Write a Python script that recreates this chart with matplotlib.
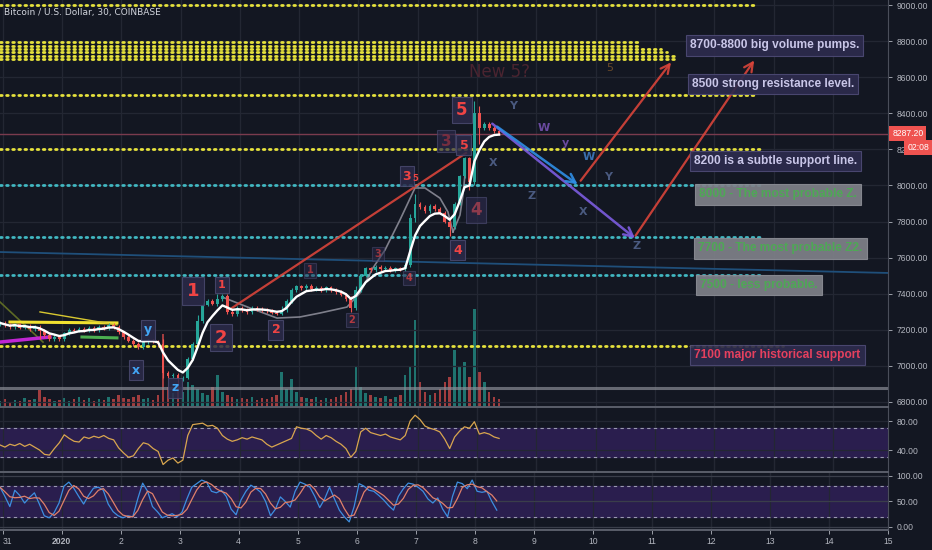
import matplotlib
matplotlib.use("Agg")
import matplotlib.pyplot as plt
from matplotlib import font_manager
import numpy as np
import pandas as pd

# ---- data (2h buckets starting Dec 31 ~00:00) ----
closes = [7238, 7225, 7215, 7230, 7212, 7220, 7205, 7215, 7195, 7170,
          7150, 7160, 7150, 7180, 7200, 7195, 7205, 7195, 7210, 7200,
          7215, 7210, 7225, 7215, 7185, 7160, 7140, 7120, 7105, 7130,
          7140, 7135, 7120, 6960, 6945, 6950, 6925, 6935, 7040, 7120,
          7250, 7340, 7360, 7345, 7370, 7390, 7300, 7285, 7320, 7310,
          7300, 7320, 7315, 7310, 7305, 7295, 7290, 7310, 7360, 7420,
          7440, 7430, 7445, 7425, 7430, 7420, 7435, 7420, 7410, 7395,
          7370, 7320, 7420, 7500, 7540, 7530, 7550, 7535, 7545, 7530,
          7540, 7535, 7560, 7820, 7900, 7880, 7860, 7885, 7870, 7850,
          7800, 7770, 7900, 8050, 8150, 8020, 8400, 8320, 8340, 8320,
          8300, 8287]
first_open = 7230
wick_idx = [8, 33, 36, 40, 44, 57, 71, 72, 83, 84, 91, 95, 96, 97]
wick_hi = [7225, 7150, 6950, 7280, 7400, 7330, 7390, 7440, 7840, 7950, 7810, 8160, 8470, 8440]
wick_lo = [7150, 6930, 6866, 7120, 7330, 7280, 7300, 7310, 7550, 7800, 7720, 7975, 8000, 8230]

volume = [6, 8, 5, 7, 6, 9, 7, 8, 17, 10, 8, 6, 7, 9, 6, 8, 10, 7, 9, 6,
          8, 7, 10, 8, 12, 9, 8, 10, 12, 8, 9, 7, 12, 73, 20, 14, 18, 15, 25, 22,
          18, 14, 12, 20, 32, 15, 12, 10, 8, 9, 8, 10, 7, 9, 8, 10, 12, 35, 18, 28,
          15, 10, 9, 8, 10, 7, 9, 8, 10, 12, 15, 18, 40, 20, 14, 12, 10, 9, 11, 8,
          10, 12, 32, 40, 87, 25, 15, 12, 14, 18, 25, 30, 57, 40, 45, 30, 98, 35, 25, 15,
          10, 8]

rsi = [47, 44, 48, 46, 49, 45, 48, 44, 40, 34, 33, 42, 50, 61, 56, 52, 51, 58, 56, 59,
       57, 60, 56, 54, 43, 36, 30, 32, 42, 50, 48, 42, 38, 20, 26, 29, 22, 26, 60, 75,
       76, 77, 73, 74, 70, 60, 55, 52, 54, 57, 55, 58, 56, 54, 48, 44, 47, 50, 53, 56,
       72, 70, 69, 66, 60, 55, 60, 57, 52, 48, 42, 30, 38, 65, 70, 64, 62, 60, 62, 58,
       56, 54, 60, 80, 88, 82, 73, 70, 68, 65, 55, 42, 58, 66, 72, 70, 79, 62, 64, 62,
       58, 56]

stoch_k = [78, 60, 40, 72, 62, 47, 58, 67, 45, 22, 18, 28, 47, 80, 88, 76, 60, 45, 62, 76,
           78, 72, 45, 30, 22, 18, 22, 20, 55, 86, 70, 40, 30, 18, 22, 26, 20, 29, 55, 78,
           85, 92, 88, 70, 67, 72, 60, 35, 24, 53, 70, 82, 76, 68, 50, 22, 35, 59, 50, 39,
           70, 88, 84, 78, 60, 38, 55, 78, 55, 33, 20, 10, 40, 85, 80, 72, 70, 62, 53, 42,
           33, 60, 75, 86, 84, 78, 70, 55, 47, 57, 35, 20, 60, 88, 85, 75, 92, 70, 68, 70,
           50, 33]

price_ticks = [6800, 7000, 7200, 7400, 7600, 7800, 8000, 8200, 8400, 8600, 8800, 9000]
day_labels = ["31", "2020", "2", "3", "4", "5", "6", "7", "8", "9", "10", "11", "12", "13", "14", "15"]
last_price = 8287.20

# ---- colours ----
BG = "#131722"
GRID = "#232733"
TXT = "#b2b5be"
UP = "#26a69a"
DN = "#ef5350"
YEL = "#e6e23c"
CYA = "#41b8c2"

# narrow font for notes if we have one
def have(name):
    try:
        font_manager.findfont(name, fallback_to_default=False)
        return True
    except Exception:
        return False

if have("Liberation Sans Narrow"):
    note_fam, note_fs, tick_fam, tick_fs = "Liberation Sans Narrow", 10, "Liberation Sans Narrow", 7
else:
    note_fam, note_fs, tick_fam, tick_fs = "Liberation Sans", 8.6, "Liberation Sans", 6.2

t = -1.045 + np.arange(len(closes)) / 12.0
closes = np.array(closes, dtype=float)
opens = np.concatenate([[first_open], closes[:-1]])
highs = np.maximum(opens, closes) + 10
lows = np.minimum(opens, closes) - 10
for i, h, l in zip(wick_idx, wick_hi, wick_lo):
    highs[i] = max(highs[i], h)
    lows[i] = min(lows[i], l)
up = closes >= opens
cols = np.where(up, UP, DN)

W, H = 932, 550
fig = plt.figure(figsize=(W / 100, H / 100), dpi=100, facecolor=BG)

def rect(x0, y0, x1, y1):
    return [x0 / W, 1 - y1 / H, (x1 - x0) / W, (y1 - y0) / H]

xlim = (-1.045, 13.93)
ax_vol = fig.add_axes(rect(0, 0, 888, 407))
ax = fig.add_axes(rect(0, 0, 888, 407))
ax_rsi = fig.add_axes(rect(0, 407, 888, 472))
ax_st = fig.add_axes(rect(0, 472, 888, 530))

for a in (ax_vol, ax, ax_rsi, ax_st):
    a.set_xlim(*xlim)
    a.set_facecolor(BG)
    for s in a.spines.values():
        s.set_visible(False)
ax.patch.set_visible(False)
ax_vol.set_xticks([])
ax_vol.set_yticks([])

# volume
ax_vol.set_ylim(0, 407)
ax_vol.bar(t, volume, width=0.5 / 12, color=cols, alpha=0.65, align="center")

# grid
day_pos = np.arange(-1, 15)
for a in (ax, ax_rsi, ax_st):
    for d in day_pos:
        a.axvline(d, color=GRID, lw=0.9, zorder=0)
ax.set_ylim(6772, 9028)
for p in price_ticks:
    ax.axhline(p, color=GRID, lw=0.9, zorder=0)

# level lines (dotted)
dot = dict(lw=2.0, linestyle=(0, (0.6, 1.6)), dash_capstyle="round", zorder=2)
ax.plot([xlim[0], 11.70], [9000, 9000], color=YEL, **dot)
band = [8793, 8774, 8756, 8737, 8719, 8700]
band_end = [9.73, 9.73, 10.1, 10.2, 10.35, 10.35]
for p, e in zip(band, band_end):
    ax.plot([xlim[0], e], [p, p], color=YEL, **dot)
ax.plot([xlim[0], 11.70], [8500, 8500], color=YEL, **dot)
ax.plot([xlim[0], 11.82], [8200, 8200], color=YEL, **dot)
ax.plot([xlim[0], 11.82], [8000, 8000], color=CYA, **dot)
ax.plot([xlim[0], 11.82], [7715, 7715], color=CYA, **dot)
ax.plot([xlim[0], 11.82], [7505, 7505], color=CYA, **dot)
ax.plot([xlim[0], 12.16], [7110, 7110], color=YEL, **dot)

# solid helper lines
ax.axhline(last_price, color="#7a3b4e", lw=1.0, zorder=1)
ax.axhline(6878, color="#8a8d96", lw=2.2, alpha=0.7, zorder=1)
ax.plot([xlim[0], xlim[1]], [7631, 7515], color="#1f4f7a", lw=1.3, zorder=1)

# left side drawings
ax.plot([-1.045, -0.32], [7354, 7132], color="#5d6a25", lw=1.2, zorder=3)
ax.plot([-0.877, 0.927], [7243, 7238], color="#f0e030", lw=2.2, zorder=3)
ax.plot([-0.371, 0.927], [7299, 7227], color="#d8c830", lw=1.0, zorder=3)
ax.plot([-1.045, -0.202], [7132, 7160], color="#c026d3", lw=2.5, zorder=3)
ax.plot([0.337, 0.927], [7160, 7155], color="#4caf50", lw=2.2, zorder=3)

# grey hand-drawn arcs
arc_d = [2.698, 3.170, 3.626, 4.013, 4.351, 4.806, 5.025, 5.245, 5.447, 5.700, 5.953, 6.121, 6.374, 6.509, 6.594]
arc_p = [7382, 7321, 7265, 7271, 7293, 7326, 7404, 7543, 7642, 7809, 7986, 7986, 7930, 7853, 7742]
ax.plot(arc_d, arc_p, color="#9a9aa6", lw=1.2, alpha=0.8, zorder=3)
ax.plot([6.594, 6.712, 6.762, 6.796], [7742, 7836, 7947, 8058], color="#9a9aa6", lw=1.2, alpha=0.8, zorder=3)

# candles
ax.vlines(t, lows, highs, color=cols, lw=0.8, zorder=4)
ax.bar(t, closes - opens, bottom=opens, width=0.55 / 12, color=cols, zorder=5)
ema = pd.Series(closes).ewm(span=5).mean()
ax.plot(t, ema, color="white", lw=1.7, zorder=6)

# trend line and arrows
ax.plot([2.867, 6.813], [7321, 8180], color="#d9443a", lw=1.6, alpha=0.9, zorder=3)
def arrow(a, b, c, lw=1.6):
    ax.annotate("", xy=b, xytext=a, zorder=6,
                arrowprops=dict(arrowstyle="->", color=c, lw=lw, mutation_scale=16, alpha=0.9))
arrow((8.718, 8014), (10.30, 8695), "#d9443a")
arrow((9.646, 7709), (11.70, 8706), "#d9443a")
arrow((7.22, 8352), (9.70, 7698), "#7c5ce0", 1.8)
arrow((7.30, 8335), (8.735, 7997), "#2f8fe6", 1.8)

# faded ghost markings
ax.text(7.386, 8629, "New 5?", color="#4a2430", fontsize=12, ha="center", va="center", zorder=2)
ax.text(9.241, 8651, "5", color="#6a4a2a", fontsize=8, ha="center", va="center", zorder=2)

# wave labels
def wave(d, p, s, fs, c="#ef4444", box=True, alpha=1.0):
    bb = dict(boxstyle="square,pad=0.25", fc="#2b2a4a", ec="#4a4a70", lw=0.8, alpha=0.85 * alpha) if box else None
    ax.text(d, p, s, color=c, fontsize=fs, fontweight="bold", ha="center", va="center",
            bbox=bb, zorder=7, alpha=alpha)
wave(2.209, 7415, "1", 13)
wave(2.681, 7155, "2", 13)
wave(2.698, 7448, "1", 8)
wave(3.609, 7199, "2", 9)
wave(4.182, 7531, "1", 7, alpha=0.6)
wave(4.890, 7254, "2", 7, alpha=0.7)
wave(5.329, 7620, "3", 7, alpha=0.6)
wave(5.852, 7487, "4", 7, alpha=0.7)
wave(5.818, 8052, "3", 9)
wave(5.953, 8041, "5", 6, box=False)
wave(6.476, 8246, "3", 11, c="#8a3040", alpha=0.8)
wave(6.779, 8224, "5", 9)
wave(6.745, 8418, "5", 12)
wave(6.981, 7864, "4", 12, c="#a84050", alpha=0.8)
wave(6.678, 7642, "4", 9)
wave(1.450, 7199, "y", 9, c="#42a5f5")
wave(1.248, 6977, "x", 9, c="#42a5f5")
wave(1.906, 6878, "z", 9, c="#42a5f5")
for d, p, s, c in [(7.268, 8124, "X", "#4a5a80"), (7.926, 7942, "Z", "#4a5a80"),
                   (7.605, 8440, "Y", "#4a5a80"), (8.128, 8318, "W", "#6a4aa0"),
                   (8.499, 8235, "y", "#6a4aa0"), (8.887, 8158, "W", "#3a70b0"),
                   (9.207, 8047, "Y", "#4a5a80"), (8.786, 7853, "X", "#4a5a80"),
                   (9.696, 7664, "Z", "#4a5a80")]:
    ax.text(d, p, s, color=c, fontsize=8, fontweight="bold", ha="center", va="center", zorder=7)

# note boxes
def note(d, p, s, tc, fc, ec):
    ax.text(d, p, s, color=tc, fontsize=note_fs, fontweight="bold", family=note_fam,
            ha="left", va="center", zorder=8,
            bbox=dict(boxstyle="square,pad=0.35", fc=fc, ec=ec, lw=0.8, alpha=0.92))
PUR, PURE = "#2d2b4d", "#4d4a75"
GRY, GRYE = "#7f8189", "#8a8c94"
note(10.59, 8776, "8700-8800 big volume pumps.", "#c9c6e8", PUR, PURE)
note(10.62, 8562, "8500 strong resistance level.", "#c9c6e8", PUR, PURE)
note(10.66, 8135, "8200 is a subtle support line.", "#c9c6e8", PUR, PURE)
note(10.74, 7950, "8000 - The most probable Z.", "#4ea855", GRY, GRYE)
note(10.73, 7651, "7700 - The most probable Z2.", "#4ea855", GRY, GRYE)
note(10.76, 7448, "7500 - less probable.", "#4ea855", GRY, GRYE)
note(10.66, 7060, "7100 major historical support", "#e5405e", PUR, PURE)

ax.text(0.005, 1 - 13 / 407, "Bitcoin / U.S. Dollar, 30, COINBASE", transform=ax.transAxes,
        color="#d1d4dc", fontsize=6.5, ha="left", va="center")

# price scale
ax.yaxis.tick_right()
ax.set_yticks(price_ticks)
ax.set_yticklabels([f"{p:.2f}" for p in price_ticks])
ax.set_xticks([])
tag = dict(boxstyle="square,pad=0.35", fc="#ef5350", ec="none")
ax.annotate(f"{last_price:.2f}", xy=(1.0, last_price), xycoords=("axes fraction", "data"),
            xytext=(3, 0), textcoords="offset points", color="white", fontsize=tick_fs,
            family=tick_fam, va="center", bbox=tag, zorder=10, annotation_clip=False)
ax.annotate("02:08", xy=(1.0, 8210), xycoords=("axes fraction", "data"),
            xytext=(14, 0), textcoords="offset points", color="white", fontsize=tick_fs,
            family=tick_fam, va="center", bbox=tag, zorder=10, annotation_clip=False)

# RSI panel
ax_rsi.set_ylim(9.7, 99.3)
ax_rsi.axhspan(30, 70, color="#2a1e4e", zorder=0)
for d in day_pos:
    ax_rsi.axvline(d, color=GRID, lw=0.9, zorder=0)
for v in (40, 80):
    ax_rsi.axhline(v, color=GRID, lw=0.9, zorder=1)
for v in (30, 70):
    ax_rsi.axhline(v, color="#9a9ab0", lw=0.8, ls=(0, (3, 3)), zorder=1)
ax_rsi.plot(t, rsi, color="#d9a64f", lw=0.9, zorder=3)
ax_rsi.yaxis.tick_right()
ax_rsi.set_yticks([40, 80])
ax_rsi.set_yticklabels(["40.00", "80.00"])
ax_rsi.set_xticks([])

# Stoch RSI panel
ax_st.set_ylim(-5.9, 107.8)
ax_st.axhspan(20, 80, color="#2a1e4e", zorder=0)
for d in day_pos:
    ax_st.axvline(d, color=GRID, lw=0.9, zorder=0)
for v in (0, 50, 100):
    ax_st.axhline(v, color="#3a3e4a", lw=0.9, zorder=1)
for v in (20, 80):
    ax_st.axhline(v, color="#9a9ab0", lw=0.8, ls=(0, (3, 3)), zorder=1)
stoch_d = pd.Series(stoch_k).rolling(3, min_periods=1).mean()
ax_st.plot(t, stoch_k, color="#3d8ee0", lw=0.9, zorder=3)
ax_st.plot(t, stoch_d, color="#e0806a", lw=0.9, zorder=3)
ax_st.yaxis.tick_right()
ax_st.set_yticks([0, 50, 100])
ax_st.set_yticklabels(["0.00", "50.00", "100.00"])
ax_st.set_xticks(day_pos)
ax_st.set_xticklabels(day_labels)

for a in (ax, ax_rsi, ax_st):
    a.tick_params(colors=TXT, labelsize=tick_fs, length=3, width=0.6, pad=3)
    for lab in a.get_yticklabels() + a.get_xticklabels():
        lab.set_family(tick_fam)
    a.spines["right"].set_visible(True)
    a.spines["right"].set_color("#4a4e5a")
ax_st.tick_params(axis="x", pad=2)
xl = ax_st.get_xticklabels()
xl[0].set_horizontalalignment("left")
xl[1].set_fontweight("bold")

# panel separators
for y in (407, 472, 530):
    fig.add_artist(plt.Line2D([0, 888 / W], [1 - y / H, 1 - y / H], color="#5a5e6a", lw=1.4))

fig.savefig("out.png", dpi=100, facecolor=BG)
